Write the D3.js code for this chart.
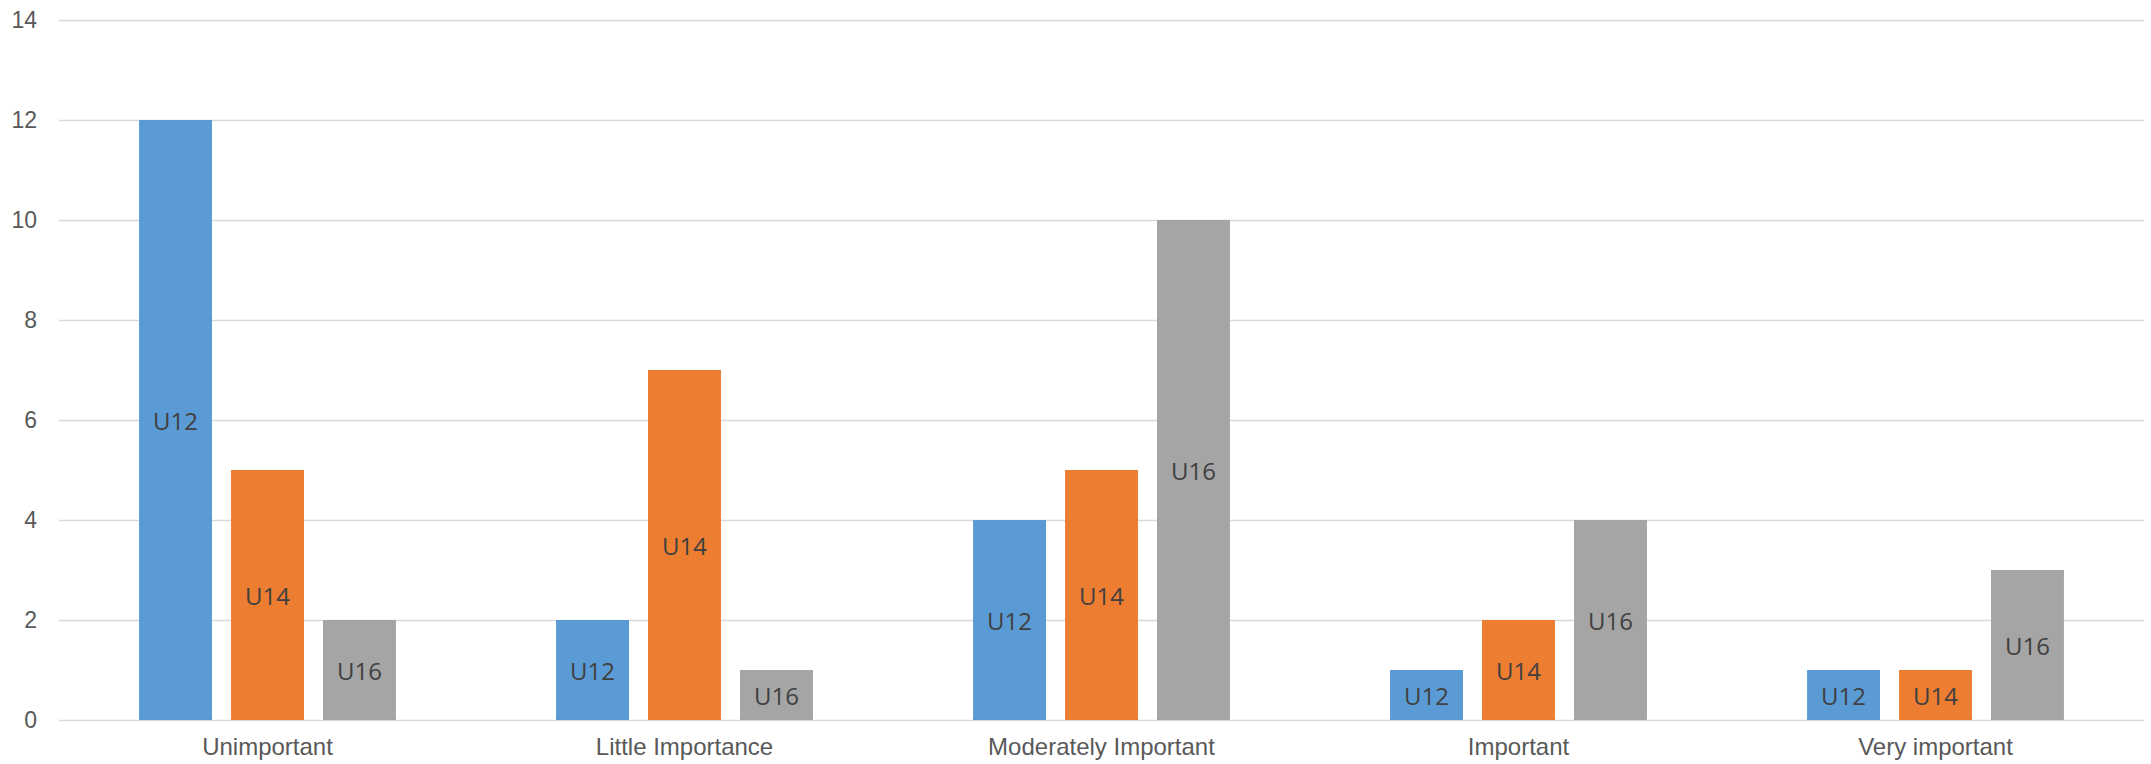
<!DOCTYPE html>
<html>
<head>
<meta charset="utf-8">
<script src="https://cdn.jsdelivr.net/npm/d3@7"></script>
<style>
  html, body { margin: 0; padding: 0; background: #ffffff; }
  svg { display: block; font-family: "Open Sans", "Lato", sans-serif; font-weight: 500; }
</style>
</head>
<body>
<svg id="chart" width="2151" height="764"></svg>
<script>
// Response categories along the x axis
const categories = ["Unimportant", "Little Importance", "Moderately Important", "Important", "Very important"];
// Age groups, one bar each per category
const seriesNames = ["U12", "U14", "U16"];
const u12 = [12, 2, 4, 1, 1];
const u14 = [5, 7, 5, 2, 1];
const u16 = [2, 1, 10, 4, 3];
const yTicks = [0, 2, 4, 6, 8, 10, 12, 14];

const seriesValues = { U12: u12, U14: u14, U16: u16 };
const colors = { U12: "#5B9BD5", U14: "#ED7D31", U16: "#A5A5A5" };

const width = 2151, height = 764;
const margin = { top: 20, right: 7, bottom: 44, left: 59 };

const svg = d3.select("#chart");

const x0 = d3.scaleBand()
  .domain(categories)
  .range([margin.left, width - margin.right])
  .paddingInner(0)
  .paddingOuter(0);

const groupInset = x0.bandwidth() * 0.192;
const x1 = d3.scaleBand()
  .domain(seriesNames)
  .range([groupInset, x0.bandwidth() - groupInset])
  .paddingInner(0.207)
  .paddingOuter(0);

const y = d3.scaleLinear()
  .domain([0, 14])
  .range([height - margin.bottom, margin.top]);

// Horizontal gridlines and value labels
const yAxis = d3.axisLeft(y)
  .tickValues(yTicks)
  .tickSize(-(width - margin.left - margin.right))
  .tickPadding(22)
  .tickFormat(d3.format("d"));

const gy = svg.append("g")
  .attr("transform", `translate(${margin.left},0)`)
  .call(yAxis);
gy.select(".domain").remove();
gy.selectAll(".tick line")
  .attr("stroke", "#D9D9D9")
  .attr("stroke-width", 1.5);
gy.selectAll(".tick text")
  .attr("fill", "#595959")
  .attr("font-family", null)
  .attr("font-size", 23);

// Grouped bars
const rows = categories.map((c, i) => ({
  category: c,
  bars: seriesNames.map(s => ({ series: s, value: seriesValues[s][i] }))
}));

const groups = svg.append("g")
  .selectAll("g")
  .data(rows)
  .join("g")
  .attr("transform", d => `translate(${x0(d.category)},0)`);

groups.selectAll("rect")
  .data(d => d.bars)
  .join("rect")
  .attr("x", d => x1(d.series))
  .attr("y", d => y(d.value))
  .attr("width", x1.bandwidth())
  .attr("height", d => y(0) - y(d.value))
  .attr("fill", d => colors[d.series]);

groups.selectAll("text")
  .data(d => d.bars)
  .join("text")
  .attr("x", d => x1(d.series) + x1.bandwidth() / 2)
  .attr("y", d => (y(d.value) + y(0)) / 2)
  .attr("text-anchor", "middle")
  .attr("dominant-baseline", "central")
  .attr("fill", "#404040")
  .attr("font-size", 24)
  .text(d => d.series);

// Category labels
const xAxis = d3.axisBottom(x0).tickSize(0).tickPadding(18);
const gx = svg.append("g")
  .attr("transform", `translate(0,${y(0)})`)
  .call(xAxis);
gx.select(".domain").remove();
gx.selectAll(".tick text")
  .attr("fill", "#595959")
  .attr("font-family", null)
  .attr("font-size", 24);
</script>
</body>
</html>
